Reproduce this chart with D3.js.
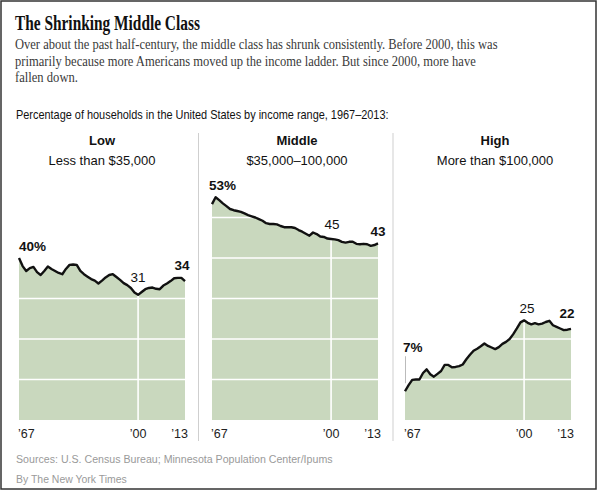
<!DOCTYPE html>
<html>
<head>
<meta charset="utf-8">
<script src="https://cdn.jsdelivr.net/npm/d3@7"></script>
<style>
  body { margin: 0; background: #fff; }
  svg { display: block; }
  .sans { font-family: "Liberation Sans", Arial, sans-serif; }
  .serif { font-family: "Liberation Serif", "Times New Roman", serif; }
</style>
</head>
<body>
<svg id="chart" width="600" height="491"></svg>
<script>
// Chart data
const years = d3.range(1967, 2014)

const lowShare = [
  40.0, 38.0, 36.8, 37.5, 37.8, 36.5, 35.8, 36.8, 37.9, 37.3,
  36.8, 36.3, 36.0, 37.3, 38.3, 38.4, 38.3, 36.8, 36.0, 35.4,
  34.8, 34.4, 33.7, 34.4, 35.2, 35.8, 36.0, 35.3, 34.6, 33.8,
  33.3, 32.6, 31.5, 30.9, 31.6, 32.3, 32.6, 32.7, 32.4, 32.3,
  33.2, 33.7, 34.3, 35.0, 35.1, 35.1, 34.3
]

const middleShare = [
  53.3, 55.0, 54.3, 53.5, 52.8, 52.1, 51.8, 51.6, 51.4, 51.0,
  50.6, 50.3, 50.0, 49.6, 49.2, 48.6, 48.4, 48.4, 48.3, 47.9,
  47.6, 47.6, 47.6, 47.4, 46.9, 46.5, 46.0, 45.5, 46.3, 45.9,
  45.3, 45.2, 44.8, 44.7, 44.6, 44.4, 44.0, 43.8, 44.0, 44.0,
  43.5, 43.4, 43.5, 43.4, 43.0, 43.2, 43.6
]

const highShare = [
  7.1, 8.6, 9.9, 10.0, 10.0, 11.6, 12.5, 11.3, 10.7, 11.4,
  12.1, 13.6, 13.6, 13.0, 13.1, 13.3, 13.7, 15.0, 16.1, 17.1,
  17.6, 18.2, 18.9, 18.3, 17.9, 17.5, 18.0, 18.8, 19.3, 20.0,
  21.2, 22.6, 24.1, 24.6, 24.0, 23.6, 23.9, 23.6, 23.8, 24.2,
  24.5, 23.4, 23.0, 22.6, 22.2, 22.3, 22.5
]

const categories = ["Low", "Middle", "High"]
const ranges = ["Less than $35,000", "$35,000\u2013100,000", "More than $100,000"]
const series = [lowShare, middleShare, highShare]

const tickYears = [1967, 2000, 2013]
const tickLabels = ["\u201967", "\u201900", "\u201913"]
const gridValues = [10, 20, 30, 40, 50]

// callouts: [year, text] per panel
const callouts = [
  [[1967, "40%"], [2000, "31"], [2013, "34"]],
  [[1967, "53%"], [2000, "45"], [2013, "43"]],
  [[1967, "7%"], [2000, "25"], [2013, "22"]],
]

const title = "The Shrinking Middle Class"
const deck = [
  "Over about the past half-century, the middle class has shrunk consistently. Before 2000, this was",
  "primarily because more Americans moved up the income ladder. But since 2000, more have",
  "fallen down.",
]
const chartLabel = "Percentage of households in the United States by income range, 1967\u20132013:"
const sources = "Sources: U.S. Census Bureau; Minnesota Population Center/Ipums"
const credit = "By The New York Times"

const svg = d3.select("#chart")

/**
 * Appends a text at (x, y) and squeezes it horizontally to the given width.
 */
function fittedText(parent, str, x, y, width, cls) {
  const g = parent.append("g")
  const t = g.append("text")
    .attr("class", cls)
    .text(str)
  const natural = t.node().getComputedTextLength()
  const k = Math.min(1, width / natural)
  g.attr("transform", `translate(${x},${y}) scale(${k},1)`)
  return t
}

svg.append("rect")
  .attr("x", 1).attr("y", 1)
  .attr("width", 595).attr("height", 488)
  .attr("fill", "#fff")
  .attr("stroke", "#333")
  .attr("stroke-width", 1.5)

fittedText(svg, title, 15, 29.5, 185, "serif")
  .attr("font-size", 21)
  .attr("font-weight", "bold")
  .attr("fill", "#111")

// font-size must be set before measuring, so set it through the class style
const deckWidths = [483, 461, 63]
deck.forEach((line, i) => {
  const g = svg.append("g")
  const t = g.append("text")
    .attr("class", "serif")
    .attr("font-size", 15.5)
    .attr("fill", "#3a3a3a")
    .text(line)
  const k = Math.min(1, deckWidths[i] / t.node().getComputedTextLength())
  g.attr("transform", `translate(15,${49.3 + i * 16.5}) scale(${k},1)`)
})

function squeezed(str, x, y, width, size, weight, fill, cls) {
  const g = svg.append("g")
  const t = g.append("text")
    .attr("class", cls)
    .attr("font-size", size)
    .attr("font-weight", weight)
    .attr("fill", fill)
    .text(str)
  const k = Math.min(1, width / t.node().getComputedTextLength())
  g.attr("transform", `translate(${x},${y}) scale(${k},1)`)
}

// redo the title with size set before measuring
svg.selectAll("g").filter(function () {
  return d3.select(this).select("text").text() === title
}).remove()
squeezed(title, 15, 29.5, 185, 21, "bold", "#111", "serif")

squeezed(chartLabel, 16, 119, 373, 13.5, "normal", "#111", "sans")

// panel layout
const panelLeft = [19, 212, 405]
const panelWidth = 166
const headerX = [102, 297, 495]
const separators = [198.5, 393]

const y = d3.scaleLinear()
  .domain([0, 50])
  .range([420, 420 - 202.5])

separators.forEach((sx) => {
  svg.append("line")
    .attr("x1", sx).attr("x2", sx)
    .attr("y1", 133).attr("y2", 441)
    .attr("stroke", "#cfcfcf")
    .attr("stroke-width", 1)
})

// offsets of the callouts relative to the data point
const calloutStyle = [
  [{ dx: 0, dy: -7.5, anchor: "start", weight: "bold" },
   { dx: 0, dy: -13, anchor: "middle", weight: "normal" },
   { dx: -3, dy: -11, anchor: "middle", weight: "bold" }],
  [{ dx: -3, dy: -14, anchor: "start", weight: "bold" },
   { dx: 1, dy: -10, anchor: "middle", weight: "normal" },
   { dx: 0, dy: -7.5, anchor: "middle", weight: "bold" }],
  [{ dx: -2, dy: -39, anchor: "start", weight: "bold" },
   { dx: 3, dy: -7.5, anchor: "middle", weight: "normal" },
   { dx: -4, dy: -11, anchor: "middle", weight: "bold" }],
]

series.forEach((values, p) => {
  const data = years.map((year, i) => ({ year, val: values[i] }))

  const x = d3.scaleLinear()
    .domain([1967, 2013])
    .range([panelLeft[p], panelLeft[p] + panelWidth])

  const area = d3.area()
    .x((d) => x(d.year))
    .y0(y(0))
    .y1((d) => y(d.val))

  const line = d3.line()
    .x((d) => x(d.year))
    .y((d) => y(d.val))

  const g = svg.append("g")

  g.append("clipPath")
    .attr("id", `clip-${p}`)
    .append("path")
    .datum(data)
    .attr("d", area)

  g.append("path")
    .datum(data)
    .attr("fill", "#c9d8be")
    .attr("d", area)

  const grid = g.append("g").attr("clip-path", `url(#clip-${p})`)

  grid.selectAll("line.h")
    .data(gridValues)
    .join("line")
    .attr("class", "h")
    .attr("x1", x(1967)).attr("x2", x(2013))
    .attr("y1", (d) => y(d)).attr("y2", (d) => y(d))
    .attr("stroke", "#fff")
    .attr("stroke-width", 1.6)

  grid.append("line")
    .attr("x1", x(2000)).attr("x2", x(2000))
    .attr("y1", y(0)).attr("y2", y(60))
    .attr("stroke", "#fff")
    .attr("stroke-width", 1.6)

  g.append("path")
    .datum(data)
    .attr("fill", "none")
    .attr("stroke", "#111")
    .attr("stroke-width", 2.4)
    .attr("stroke-linejoin", "round")
    .attr("d", line)

  // headers
  g.append("text")
    .attr("class", "sans")
    .attr("x", headerX[p]).attr("y", 145)
    .attr("text-anchor", "middle")
    .attr("font-size", 13)
    .attr("font-weight", "bold")
    .attr("fill", "#111")
    .text(categories[p])

  g.append("text")
    .attr("class", "sans")
    .attr("x", headerX[p]).attr("y", 165)
    .attr("text-anchor", "middle")
    .attr("font-size", 13)
    .attr("fill", "#111")
    .text(ranges[p])

  // year ticks
  const anchors = ["start", "middle", "end"]
  const tickDx = [-1, 0, 3]
  g.selectAll("text.tick")
    .data(tickYears)
    .join("text")
    .attr("class", "sans tick")
    .attr("x", (d, i) => x(d) + tickDx[i])
    .attr("y", 438)
    .attr("text-anchor", (d, i) => anchors[i])
    .attr("font-size", 12.5)
    .attr("fill", "#222")
    .text((d, i) => tickLabels[i])

  // callouts
  callouts[p].forEach(([year, text], i) => {
    const s = calloutStyle[p][i]
    const val = values[years.indexOf(year)]
    g.append("text")
      .attr("class", "sans")
      .attr("x", x(year) + s.dx)
      .attr("y", y(val) + s.dy)
      .attr("text-anchor", s.anchor)
      .attr("font-size", 13.5)
      .attr("font-weight", s.weight)
      .attr("fill", "#111")
      .text(text)
  })

  // leader line for the small starting value
  if (p === 2) {
    g.append("line")
      .attr("x1", x(1967) + 0.5).attr("x2", x(1967) + 0.5)
      .attr("y1", y(values[0]) - 35).attr("y2", y(values[0]) - 8)
      .attr("stroke", "#bbb")
      .attr("stroke-width", 1)
  }
})

squeezed(sources, 16, 463, 317, 11.5, "normal", "#9a9a9a", "sans")
squeezed(credit, 16, 483, 111, 11.5, "normal", "#9a9a9a", "sans")
</script>
</body>
</html>
